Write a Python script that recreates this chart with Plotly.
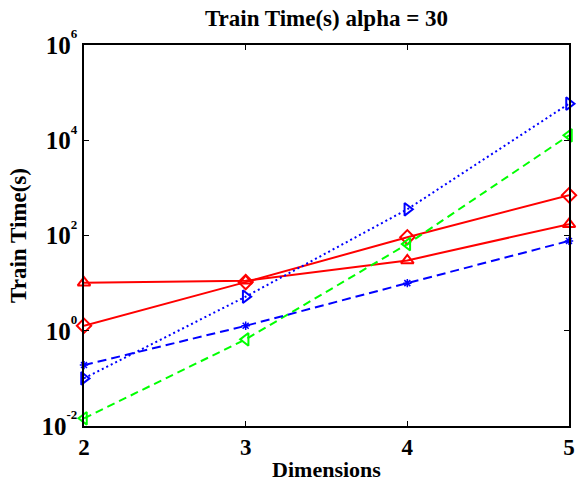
import plotly.graph_objects as go

dimensions = [2, 3, 4, 5]

# training time (s) per method
red_triangle = [10.2, 11.2, 30, 173]
red_diamond = [1.27, 10.5, 92, 700]
blue_right = [0.10, 5.2, 355, 58600]
green_left = [0.0145, 0.66, 66, 12700]
blue_star = [0.19, 1.27, 10, 77]

y_exponents = [-2, 0, 2, 4, 6]
x_tickvals = [2, 3, 4, 5]

FONT = "Liberation Serif"

y_tickvals = [10.0 ** e for e in y_exponents]
y_ticktext = [
    f"10<sup><span style='font-size:13px;baseline-shift:5px'>{e}</span></sup>"
    for e in y_exponents
]

series = [
    (red_triangle, "#ff0000", "solid", "triangle-up-open", 11, 2),
    (red_diamond, "#ff0000", "solid", "diamond-open", 11, 2),
    (blue_right, "#0000ff", "2px,3px", "triangle-right-open", 11, 2),
    (green_left, "#00ff00", "8px,5px", "triangle-left-open", 11, 2),
    (blue_star, "#0000ff", "9px,5px", "asterisk-open", 7, 1.5),
]

fig = go.Figure()
for ys, color, dash, symbol, size, mlw in series:
    fig.add_trace(go.Scatter(
        x=dimensions, y=ys, mode="lines+markers",
        line=dict(color=color, width=2, dash=dash),
        marker=dict(symbol=symbol, size=size, color=color,
                    line=dict(color=color, width=mlw)),
        cliponaxis=False, showlegend=False,
    ))

axis_common = dict(
    showline=True, linecolor="black", linewidth=1.5, mirror="allticks",
    ticks="inside", ticklen=5, tickwidth=1, tickcolor="black",
    showgrid=False, zeroline=False,
)

fig.update_xaxes(
    range=[2, 5], tickvals=x_tickvals, ticktext=[str(v) for v in x_tickvals],
    tickfont=dict(family=FONT, size=23, color="black", weight="bold"),
    title=dict(text="<b>Dimensions</b>", font=dict(family=FONT, size=22, color="black"), standoff=2),
    **axis_common,
)
fig.update_yaxes(
    type="log", range=[-2, 6], tickvals=y_tickvals, ticktext=y_ticktext,
    tickfont=dict(family=FONT, size=25, color="black", weight="bold"),
    title=dict(text="<b>Train Time(s)</b>", font=dict(family=FONT, size=23, color="black"), standoff=8),
    **axis_common,
)

fig.update_layout(
    width=582, height=485,
    margin=dict(l=84, r=7, t=45, b=58),
    paper_bgcolor="white", plot_bgcolor="white",
    title=dict(text="<b>Train Time(s) alpha = 30</b>", x=0.5, xref="paper", xanchor="center",
               y=0.962, yanchor="middle",
               font=dict(family=FONT, size=23, color="black")),
)

fig.write_html("out.html")
